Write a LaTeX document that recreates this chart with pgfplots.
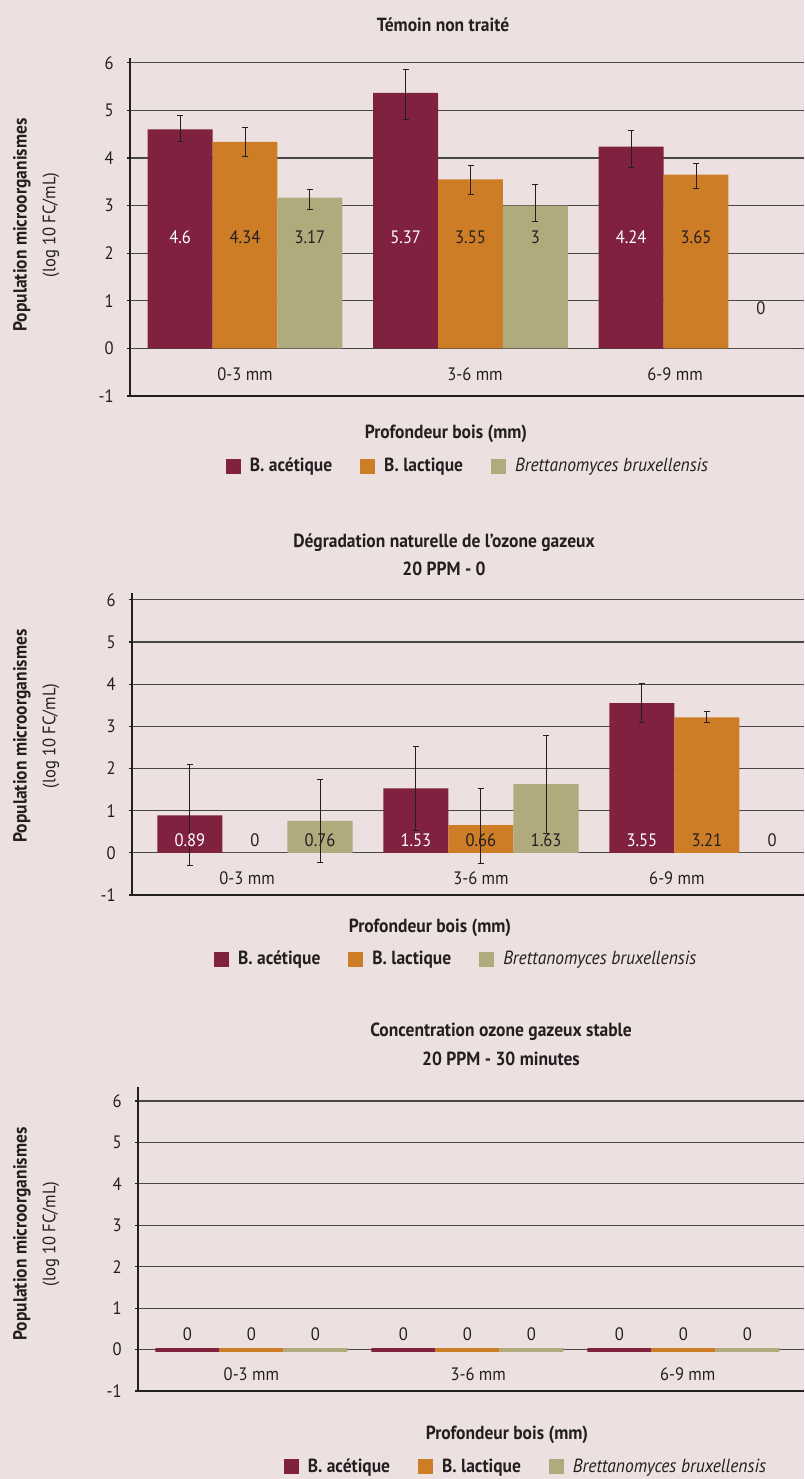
\documentclass[border=0pt]{standalone}
\usepackage{fontspec}
\setmainfont{PT Sans}[FakeStretch=0.92]
\usepackage{pgfplots}
\pgfplotsset{compat=1.18}

\definecolor{bgpink}{RGB}{237,224,224}
\definecolor{acet}{RGB}{128,33,63}
\definecolor{lact}{RGB}{206,125,39}
\definecolor{brett}{RGB}{177,170,125}
\definecolor{ink}{RGB}{35,31,32}

\newcommand\tkfont{\fontsize{9}{10.5}\selectfont}
\newcommand\bfont{\fontsize{9.5}{11.5}\selectfont\bfseries}

\pgfplotsset{
  panel/.style={
    ybar,
    axis x line*=bottom, axis y line*=left,
    axis line style={line width=1pt, ink},
    ymin=-1, ytick={-1,0,...,6},
    ymajorgrids, grid style={black!72, line width=0.6pt},
    tick align=outside, major tick length=1.7pt,
    y tick style={ink, line width=0.6pt},
    xtick style={draw=none},
    tick label style={font=\tkfont, text=ink},
    yticklabel style={xshift=-3pt},
    /pgf/number format/assume math mode=true,
    xticklabels={0-3 mm,3-6 mm,6-9 mm},
    clip=false,
    legend style={draw=none, fill=none, anchor=center, legend columns=3,
      font=\bfont, text=ink,
      /tikz/every odd column/.append style={column sep=2.5pt},
      /tikz/every even column/.append style={column sep=12pt}},
    legend image code/.code={\fill[##1,draw=none] (0pt,-3.75pt) rectangle (7.5pt,3.75pt);},
    nodes near coords={\pgfmathprintnumber[assume math mode=true]{\pgfplotspointmeta}},
    visualization depends on={rawy \as \rawy},
  },
  errs/.style={
    error bars/y dir=both, error bars/y explicit,
    error bars/error bar style={ink, line width=0.5pt},
    error bars/error mark options={rotate=90, ink, mark size=1.5pt, line width=0.5pt},
  },
}

\begin{document}
\begin{tikzpicture}[x=0.5pt, y=-0.5pt]
\fill[bgpink] (0,0) rectangle (804,1479);

% ---------------- Témoin non traité ----------------
\node[font=\bfont, text=ink] at (443,25) {Témoin non traité};
\node[font=\bfont, text=ink, rotate=90] at (22,225) {Population microorganismes};
\node[font=\tkfont, text=ink, rotate=90] at (51,225) {(log 10 FC/mL)};
\node[font=\bfont, text=ink] at (446,434) {Profondeur bois (mm)};

\begin{axis}[panel,
  at={(65pt,-198pt)}, anchor=south west,
  x=112.75pt, y=23.8pt,
  xmin=-0.51, xmax=2.479, ymax=6.1,
  xtick={0,1.02,1.907},
  xticklabel style={anchor=center, yshift=12.5pt},
  every node near coord/.append style={anchor=center, font=\tkfont,
    yshift={(((\rawy==0)?0.85:2.33)-\rawy)*23.8pt}},
  legend style={at={(0.503,-0.209)}},
  bar width=0.288,
]
\addplot[errs, fill=acet, draw=none, bar shift=-0.288,
  every node near coord/.append style={text=white}]
  coordinates {(0,4.6) += (0,0.30) -= (0,0.26)
               (1,5.37) += (0,0.49) -= (0,0.56)
               (2,4.24) += (0,0.34) -= (0,0.44)};
\addlegendentry{B. acétique}
\addplot[errs, fill=lact, draw=none, bar shift=0,
  every node near coord/.append style={text=ink}]
  coordinates {(0,4.34) += (0,0.31) -= (0,0.31)
               (1,3.55) += (0,0.30) -= (0,0.32)
               (2,3.65) += (0,0.23) -= (0,0.29)};
\addlegendentry{B. lactique}
\addplot[errs, fill=brett, draw=none, bar shift=0.288,
  every node near coord/.append style={text=ink}]
  coordinates {(0,3.17) += (0,0.16) -= (0,0.26)
               (1,3) += (0,0.45) -= (0,0.33)
               (2,0)};
\addlegendentry{\normalfont\itshape Brettanomyces bruxellensis}
\end{axis}

% ---------------- Dégradation naturelle ----------------
\node[font=\bfont, text=ink] at (444,543) {Dégradation naturelle de l’ozone gazeux};
\node[font=\bfont, text=ink] at (444,569) {20 PPM - 0};
\node[font=\bfont, text=ink, rotate=90] at (22,736) {Population microorganismes};
\node[font=\tkfont, text=ink, rotate=90] at (51,736) {(log 10 FC/mL)};
\node[font=\bfont, text=ink] at (430,928) {Profondeur bois (mm)};

\begin{axis}[panel,
  at={(66pt,-447.5pt)}, anchor=south west,
  x=113pt, y=21.085pt,
  xmin=-0.544, xmax=2.429, ymax=6.17,
  xtick={-0.035,1.0,1.867},
  xticklabel style={anchor=center, yshift=10pt},
  every node near coord/.append style={anchor=center, font=\tkfont,
    yshift={(0.3-\rawy)*21.085pt}},
  legend style={at={(0.484,-0.212)}},
  bar width=0.288,
]
\addplot[errs, fill=acet, draw=none, bar shift=-0.288,
  every node near coord/.append style={text=white}]
  coordinates {(0,0.89) += (0,1.21) -= (0,1.19)
               (1,1.53) += (0,0.99) -= (0,0.99)
               (2,3.55) += (0,0.46) -= (0,0.46)};
\addlegendentry{B. acétique}
\addplot[errs, fill=lact, draw=none, bar shift=0,
  every node near coord/.append style={text=ink}]
  coordinates {(0,0)
               (1,0.66) += (0,0.87) -= (0,0.91)
               (2,3.21) += (0,0.13) -= (0,0.13)};
\addlegendentry{B. lactique}
\addplot[errs, fill=brett, draw=none, bar shift=0.288,
  every node near coord/.append style={text=ink}]
  coordinates {(0,0.76) += (0,0.99) -= (0,0.99)
               (1,1.63) += (0,1.15) -= (0,1.16)
               (2,0)};
\addlegendentry{\normalfont\itshape Brettanomyces bruxellensis}
\end{axis}

% ---------------- Concentration stable ----------------
\node[font=\bfont, text=ink] at (501,1032) {Concentration ozone gazeux stable};
\node[font=\bfont, text=ink] at (501,1059) {20 PPM - 30 minutes};
\node[font=\bfont, text=ink, rotate=90] at (22,1234) {Population microorganismes};
\node[font=\tkfont, text=ink, rotate=90] at (51,1234) {(log 10 FC/mL)};
\node[font=\bfont, text=ink] at (507,1435) {Profondeur bois (mm)};

\begin{axis}[panel,
  at={(69pt,-695.5pt)}, anchor=south west,
  x=108pt, y=20.715pt,
  xmin=-0.525, xmax=2.558, ymax=6.33,
  xtick={0,1.05,2.02},
  xticklabel style={anchor=center, yshift=10pt},
  every node near coord/.append style={anchor=center, font=\tkfont, text=ink,
    yshift={(0.36-\rawy)*20.715pt}},
  legend style={at={(0.584,-0.250)}},
  bar width=0.296,
]
\addplot[fill=acet, draw=acet, line width=2pt, line join=bevel, bar shift=-0.296]
  coordinates {(0,0) (1,0) (2,0)};
\addlegendentry{B. acétique}
\addplot[fill=lact, draw=lact, line width=2pt, line join=bevel, bar shift=0]
  coordinates {(0,0) (1,0) (2,0)};
\addlegendentry{B. lactique}
\addplot[fill=brett, draw=brett, line width=2pt, line join=bevel, bar shift=0.296]
  coordinates {(0,0) (1,0) (2,0)};
\addlegendentry{\normalfont\itshape Brettanomyces bruxellensis}
\end{axis}

\pgfresetboundingbox
\useasboundingbox (0,0) rectangle (804,1479);
\end{tikzpicture}
\end{document}
